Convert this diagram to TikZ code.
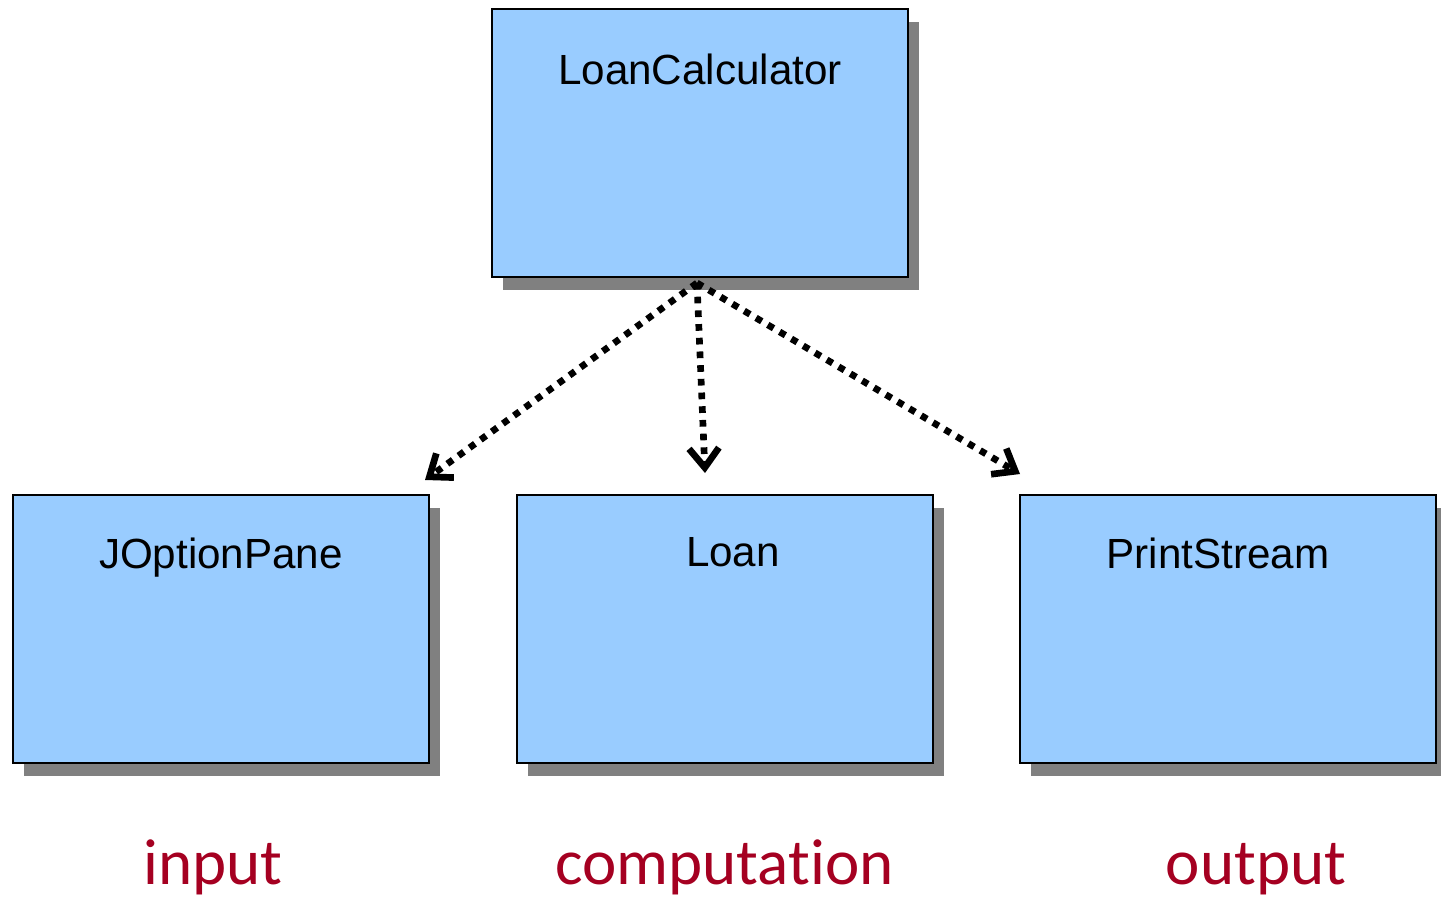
\documentclass[tikz,border=0pt]{standalone}
\usepackage{fontspec}
\setmainfont{Liberation Sans}
\newfontfamily\rolefont[Ligatures=NoCommon]{Carlito}
\usetikzlibrary{arrows.meta,shadows}
\definecolor{boxblue}{HTML}{99CCFF}
\definecolor{rolered}{HTML}{A50021}
\tikzset{
  classbox/.style={draw=black, line width=1.1pt, fill=boxblue, anchor=north west,
    minimum width=8.32cm, minimum height=5.36cm, inner sep=0pt,
    drop shadow={shadow xshift=0.22cm, shadow yshift=-0.26cm, fill=black!50, opacity=1}},
  classname/.style={font=\fontsize{24}{28}\selectfont, anchor=base, inner sep=0pt},
  uses/.style={line width=3.8pt, dash pattern=on 3.8pt off 4pt,
    -{Straight Barb[length=11pt,width=17pt,line width=3.8pt]}},
  role/.style={font=\rolefont\fontsize{37}{44}\selectfont, text=rolered, anchor=base, inner sep=0pt}
}
\begin{document}
\begin{tikzpicture}
\useasboundingbox (0,0) rectangle (28.82,-17.96);
% classes
\node[classbox] (calc) at (9.82,-0.16) {};
\node[classbox] (jop) at (0.24,-9.88) {};
\node[classbox] (loan) at (10.32,-9.88) {};
\node[classbox] (ps) at (20.38,-9.88) {};
\node[classname] (calcname) at ([yshift=-1.54cm]calc.north) {LoanCalculator};
\node[classname] (jopname) at ([yshift=-1.48cm]jop.north) {JOptionPane};
\node[classname] (loanname) at ([xshift=0.16cm, yshift=-1.44cm]loan.north) {Loan};
\node[classname] (psname) at ([xshift=-0.2cm, yshift=-1.48cm]ps.north) {PrintStream};
% dependencies
\coordinate (from) at (13.94,-5.66);
\coordinate (tojop) at (8.5,-9.6);
\coordinate (toloan) at (14.1,-9.46);
\coordinate (tops) at (20.4,-9.48);
\draw[uses] (from) -- (tojop);
\draw[uses] (from) -- (toloan);
\draw[uses] (from) -- (tops);
% roles
\node[role] (input) at (4.26,-17.68) {input};
\node[role] (computation) at (14.49,-17.68) {computation};
\node[role] (output) at (25.12,-17.68) {output};
\end{tikzpicture}
\end{document}
